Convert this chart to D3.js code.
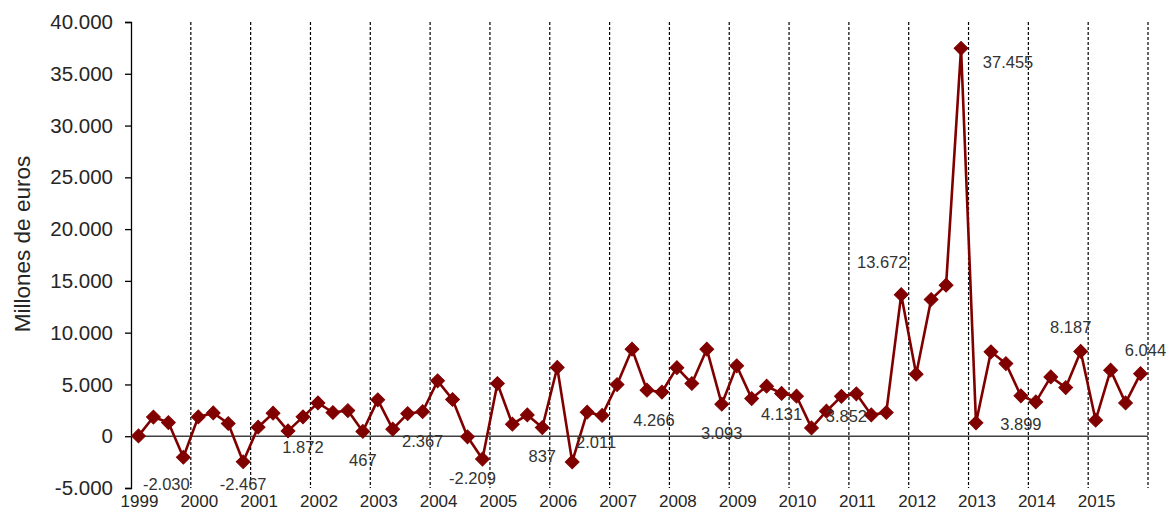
<!DOCTYPE html>
<html>
<head>
<meta charset="utf-8">
<script src="https://cdn.jsdelivr.net/npm/d3@7/dist/d3.min.js"></script>
<style>
  body { margin: 0; background: #fff; }
  svg { display: block; font-family: "Liberation Sans", Arial, sans-serif; }
</style>
</head>
<body>
<svg id="chart" width="1171" height="518"></svg>
<script>
// ---- data ----
const years = ["1999","2000","2001","2002","2003","2004","2005","2006","2007","2008","2009","2010","2011","2012","2013","2014","2015"];
const quarters = ["T1","T2","T3","T4"];
const values = [
  30, 1850, 1320, -2030,
  1865, 2250, 1227, -2467,
  870, 2222, 515, 1872,
  3220, 2290, 2480, 467,
  3510, 680, 2190, 2367,
  5345, 3545, -60, -2209,
  5090, 1160, 2060, 837,
  6640, -2480, 2320, 2011,
  4990, 8406, 4444, 4266,
  6620, 5090, 8406, 3093,
  6795, 3640, 4830, 4131,
  3865, 805, 2415, 3852,
  4090, 2060, 2290, 13672,
  5990, 13205, 14590, 37455,
  1290, 8150, 7020, 3899,
  3315, 5730, 4700, 8187,
  1545, 6375, 3220, 6044
];
const yTicks = [-5000, 0, 5000, 10000, 15000, 20000, 25000, 30000, 35000, 40000];
const yTitle = "Millones de euros";

// ---- layout (label placement offsets, per year's T4 label) ----
const labelOffsets = [
  [-17, 27], [0, 22], [0, 30], [0, 29], [0, 30], [-10, 19], [0, 29], [-6, 27],
  [-8, 28], [0, 29], [0, 21], [5, 20], [-19, -32], [47, 14], [0, 28], [-10, -24], [5, -23]
];

(function () {
const svg = d3.select("#chart");
const mLeft = 131, mRight = 1148, mTop = 22, mBottom = 488;
const color = "#800000";
const locale = d3.formatLocale({ decimal: ",", thousands: ".", grouping: [3], currency: ["", " €"], minus: "-" });
const fmt = locale.format(",");

const idx = d3.range(values.length);
const x = d3.scaleBand().domain(idx).range([mLeft, mRight]).padding(0);
const y = d3.scaleLinear().domain([-5000, 40000]).range([mBottom, mTop]);
const cx = i => x(i) + x.bandwidth() / 2;

// vertical dashed year gridlines
const gridIdx = d3.range(1, years.length + 1).map(k => k * 4);
svg.append("g").selectAll("line").data(gridIdx).join("line")
  .attr("x1", k => k < values.length ? x(k) : mRight)
  .attr("x2", k => k < values.length ? x(k) : mRight)
  .attr("y1", mTop).attr("y2", mBottom)
  .attr("stroke", "#000").attr("stroke-width", 1.2).attr("stroke-dasharray", "3,2");

// y axis
const yAxis = d3.axisLeft(y).tickValues(yTicks).tickSize(6).tickPadding(12).tickFormat(fmt);
const ga = svg.append("g").attr("transform", `translate(${mLeft},0)`).call(yAxis);
ga.select(".domain").attr("stroke", "#000").attr("stroke-width", 1.3);
ga.selectAll(".tick line").attr("stroke", "#000").attr("stroke-width", 1.3);
ga.selectAll(".tick text").attr("font-size", 20.5).attr("fill", "#262626")
  .attr("font-family", "'Liberation Sans', Arial, sans-serif");

// zero line
svg.append("line").attr("x1", mLeft).attr("x2", mRight)
  .attr("y1", y(0)).attr("y2", y(0)).attr("stroke", "#404040").attr("stroke-width", 1.5);

// year labels (at first quarter of each year)
svg.append("g").selectAll("text").data(years).join("text")
  .attr("x", (d, k) => cx(k * 4) + 1)
  .attr("y", 507)
  .attr("text-anchor", "middle")
  .attr("font-size", 17).attr("fill", "#262626")
  .text(d => d);

// y title
svg.append("text")
  .attr("transform", `translate(30,244) rotate(-90)`)
  .attr("text-anchor", "middle")
  .attr("font-size", 22.5).attr("fill", "#262626")
  .text(yTitle);

// line
const line = d3.line().x((d, i) => cx(i)).y(d => y(d));
svg.append("path").datum(values).attr("d", line)
  .attr("fill", "none").attr("stroke", color).attr("stroke-width", 2.6).attr("stroke-linejoin", "round");

// diamond markers
const sym = d3.symbol().type(d3.symbolSquare).size(95);
svg.append("g").selectAll("path").data(values).join("path")
  .attr("d", sym)
  .attr("transform", (d, i) => `translate(${cx(i)},${y(d)}) rotate(45)`)
  .attr("fill", color).attr("stroke", color).attr("stroke-width", 1);

// data labels on last quarter of each year
svg.append("g").selectAll("text").data(years).join("text")
  .attr("x", (d, k) => cx(k * 4 + 3) + labelOffsets[k][0])
  .attr("y", (d, k) => y(values[k * 4 + 3]) + labelOffsets[k][1])
  .attr("dy", "0.35em")
  .attr("text-anchor", "middle")
  .attr("font-size", 16.5).attr("fill", "#333")
  .text((d, k) => fmt(values[k * 4 + 3]));
})();
</script>
</body>
</html>
